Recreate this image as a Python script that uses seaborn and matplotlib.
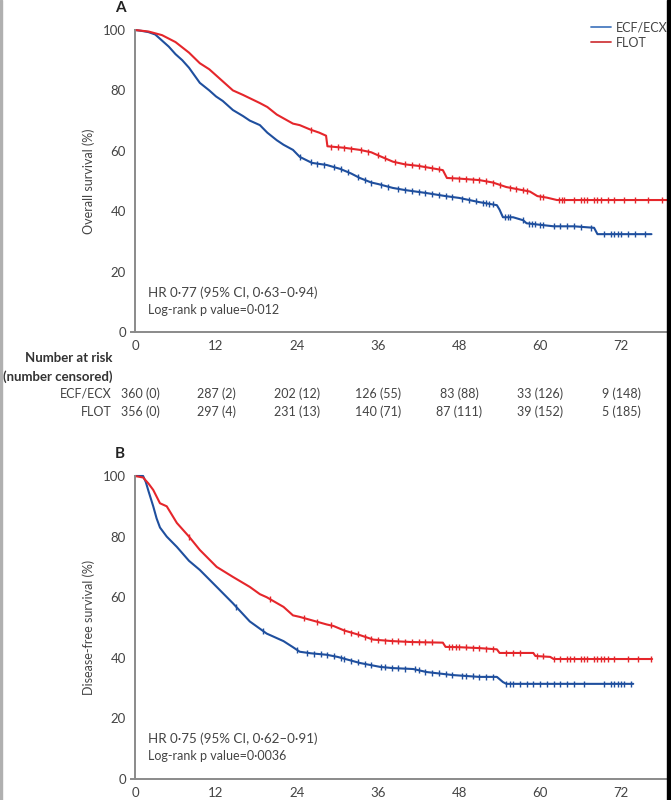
import numpy as np
import pandas as pd
import matplotlib
matplotlib.use("Agg")
import matplotlib.pyplot as plt
import seaborn as sns
from matplotlib.lines import Line2D
from matplotlib.patches import Rectangle

# ---------------- data ----------------
groups = ["ECF/ECX", "FLOT"]
month_ticks = [0, 12, 24, 36, 48, 60, 72]
y_ticks = [0, 20, 40, 60, 80, 100]

# Panel A - overall survival
os_ecf_t = [0, 1, 2, 3, 4, 5, 6, 7, 8, 9.6, 11, 12, 13, 14.5, 16, 17, 18.5, 19.6, 21, 22, 23.4, 24.4,
            26.2, 28.4, 30.4, 32, 33.3, 35, 36, 38.2, 40, 43.2, 46, 48, 51, 53.6, 54, 54.5, 56, 57.5,
            58, 60, 62, 65, 68, 68.5, 76.5]
os_ecf_s = [100, 99.7, 99.3, 98.5, 96.5, 94.5, 92, 90, 87.5, 82.5, 80, 78, 76.5, 73.5, 71.5, 70, 68.5,
            66, 63.5, 62, 60.3, 58, 56, 55.3, 54, 52.5, 51, 49.5, 49, 47.7, 47, 46, 45, 44.4, 43, 42,
            40.5, 38, 38, 37, 36, 35.5, 35, 35, 34.5, 32.4, 32.4]
os_flot_t = [0, 2, 4, 6, 8, 9.6, 11, 12, 13, 14.5, 16, 18.5, 19.6, 21, 23.4, 24.4, 26, 27.3, 28.3, 28.5,
             31, 33.3, 35, 36, 38.2, 40, 42, 45.6, 46.2, 48, 51, 53, 55, 58.5, 59.6, 61, 62.5, 78.8]
os_flot_s = [100, 99.5, 98.3, 96, 92.5, 89, 87, 85, 83, 80, 78.5, 75.8, 74.5, 72, 69, 68.5, 67, 66, 65,
             61.5, 61, 60.3, 59.5, 58.5, 56.4, 55.5, 55, 53.6, 51, 50.8, 50.3, 49.5, 48, 46.5, 45, 44.5,
             43.7, 43.7]
os_ecf_cens = [24.5, 26, 27, 28, 29.5, 30.5, 31.5, 33, 34, 35, 36.5, 37.5, 39, 40, 41, 42, 43, 44, 45,
               46, 47, 48.5, 49.5, 50.5, 51.5, 52, 52.5, 53, 54.8, 55.2, 55.6, 57.5, 58.3, 58.8, 59.3,
               60, 60.5, 62, 63, 64, 65, 66, 67.5, 69.5, 70.5, 71, 71.5, 72, 73, 74, 75.5]
os_flot_cens = [26, 29, 30, 31, 32, 33.5, 34.5, 36, 37, 38.5, 40, 41, 42, 43, 44, 45, 47, 48, 49, 50,
                51, 52, 53, 54, 55.5, 56.5, 57.5, 58, 60, 60.5, 62.8, 63.2, 63.6, 65, 66, 66.5, 67, 68,
                68.5, 69, 70, 71, 72.5, 74, 76, 78]

# Panel B - disease-free survival
dfs_ecf_t = [0, 1.2, 1.6, 2, 2.7, 3.2, 3.7, 4.7, 6.2, 8, 9.6, 12.1, 14.5, 17, 19.5, 22, 23.4, 24.4, 26,
             28.4, 30, 33.3, 36.3, 38.2, 41.2, 43.2, 47.1, 51, 53.6, 54.5, 55, 73.8]
dfs_ecf_s = [100, 100, 98, 95, 90, 86, 83, 80, 76.6, 72, 69, 63.4, 58, 52, 48, 45.5, 43.5, 42, 41.5, 41,
             40.3, 38.3, 37, 36.6, 36.3, 35.3, 34.3, 33.7, 33.7, 32, 31.4, 31.4]
dfs_flot_t = [0, 1.2, 2, 2.7, 3.7, 4.7, 6.2, 8, 9.6, 12.1, 14.5, 17, 18.5, 19.5, 22, 23.4, 24.4, 26, 28.4,
              29.4, 31, 33.3, 35.3, 38.2, 41, 45.6, 46, 48, 51, 53.6, 54, 59, 59.3, 61.5, 62, 76.6]
dfs_flot_s = [100, 99.5, 97.5, 95.4, 91, 90, 84.5, 80, 75.6, 70, 66.7, 63.4, 61, 60, 56.8, 54, 53.5, 52.5,
              51, 50.5, 49, 47.5, 46, 45.5, 45.2, 45, 43.6, 43.5, 43.2, 42.8, 41.6, 41.6, 40.6, 40.3,
              39.6, 39.6]
dfs_ecf_cens = [15, 19, 24, 25.5, 26.5, 27.5, 28.5, 29.5, 30.5, 31, 32, 33, 34, 35, 36.5, 37, 38, 39, 40,
                41.5, 42, 43, 44, 45, 46, 47, 48.5, 49, 50, 51, 52, 53, 55, 55.5, 56, 57, 58, 59, 60,
                61, 62, 63, 64, 65, 66.5, 69.5, 70.5, 71, 71.5, 72, 72.5, 73.5]
dfs_flot_cens = [8, 20, 25, 27, 29, 31, 32, 33, 34, 35, 36, 37, 38, 39, 40, 41, 42, 43, 44, 46.5, 47,
                 47.5, 48, 49, 50, 51, 52, 53, 55, 56, 57, 59.5, 60.5, 62, 63, 64, 64.5, 65, 66, 66.5,
                 67, 68, 68.5, 69, 69.5, 70, 71, 73, 74.5, 76.5]

risk_ecf = ["360 (0)", "287 (2)", "202 (12)", "126 (55)", "83 (88)", "33 (126)", "9 (148)"]
risk_flot = ["356 (0)", "297 (4)", "231 (13)", "140 (71)", "87 (111)", "39 (152)", "5 (185)"]

hr_texts = ["HR 0·77 (95% CI, 0·63–0·94)", "HR 0·75 (95% CI, 0·62–0·91)"]
p_texts = ["Log-rank p value=0·012", "Log-rank p value=0·0036"]
ylabels = ["Overall survival (%)", "Disease-free survival (%)"]
panel_labels = ["A", "B"]

# ---------------- style ----------------
sns.set_theme(style="white")
FONT = ["Lato", "DejaVu Sans"]
plt.rcParams["font.family"] = FONT
BLUE = "#1f4f9e"
RED = "#e5262b"
GREY = "#8a8a8a"
TXT = "#444444"
FS = 9
FT = 9.5

W, H = 671, 800
fig = plt.figure(figsize=(W / 100, H / 100), dpi=100)

XMIN, XMAX = -0.6, 78.8
x_left_px = 135 - 0.6 * 6.75
axes_px = [(30, 332), (476, 779)]

def fx(px):
    return px / W

def fy(py):
    return 1 - py / H

panels = [
    (os_ecf_t, os_ecf_s, os_flot_t, os_flot_s, os_ecf_cens, os_flot_cens),
    (dfs_ecf_t, dfs_ecf_s, dfs_flot_t, dfs_flot_s, dfs_ecf_cens, dfs_flot_cens),
]

axes = []
for i, (et, es, ft, fs, ec, fc) in enumerate(panels):
    top, bot = axes_px[i]
    ax = fig.add_axes([fx(x_left_px), fy(bot), fx(667 - x_left_px), (bot - top) / H])
    axes.append(ax)
    df = pd.concat([
        pd.DataFrame({"t": et, "s": es, "g": groups[0]}),
        pd.DataFrame({"t": ft, "s": fs, "g": groups[1]}),
    ])
    sns.lineplot(data=df, x="t", y="s", hue="g", palette=[BLUE, RED], estimator=None,
                 sort=False, lw=1.5, ax=ax, legend=False, clip_on=False)
    for cens, tt, ss, col in [(ec, et, es, BLUE), (fc, ft, fs, RED)]:
        cy = np.interp(cens, tt, ss)
        sns.scatterplot(x=cens, y=cy, marker="|", s=22, linewidth=1.0, color=col, ax=ax,
                        legend=False, zorder=3)
    ax.set_xlim(XMIN, XMAX)
    ax.set_ylim(0, 100)
    ax.spines["left"].set_position(("data", 0))
    for s in ["top", "right"]:
        ax.spines[s].set_visible(False)
    for s in ["left", "bottom"]:
        ax.spines[s].set_color(GREY)
        ax.spines[s].set_linewidth(1.4)
    ax.set_xticks(month_ticks)
    ax.set_yticks(y_ticks)
    ax.tick_params(axis="both", direction="out", length=5, width=1.2, color="#555555",
                   labelsize=FT, labelcolor=TXT, pad=1.5)
    ax.tick_params(axis="x", pad=1)
    ax.set_xlabel("")
    ax.set_ylabel(ylabels[i], fontsize=FS, color=TXT)
    ax.yaxis.set_label_coords((95 - x_left_px) / (667 - x_left_px), 0.5)
    ax.set_facecolor("white")
    # annotations
    fig.text(fx(148), fy(top + 263), hr_texts[i], fontsize=9.6, color=TXT, ha="left", va="center")
    fig.text(fx(148), fy(top + 280), p_texts[i], fontsize=FS, color=TXT, ha="left", va="center")
    fig.text(fx(120), fy(top - 22), panel_labels[i], fontsize=11, fontweight="bold",
             color="#222222", ha="center", va="center")

# legend
handles = [Line2D([0], [0], color="#4a7cc0", lw=1.3), Line2D([0], [0], color="#d03a3e", lw=1.3)]
axes[0].legend(handles, groups, loc="upper left", bbox_to_anchor=(fx(591), fy(21)),
               bbox_transform=fig.transFigure, frameon=False, fontsize=FS, handlelength=1.6,
               handletextpad=0.4, labelspacing=0.3, borderpad=0, borderaxespad=0,
               labelcolor=TXT)

# number at risk table
fig.text(fx(112), fy(358), "Number at risk", fontsize=FT, fontweight="bold", color="#333333",
         ha="right", va="center")
fig.text(fx(112), fy(377), "(number censored)", fontsize=FT, fontweight="bold", color="#333333",
         ha="right", va="center")
fig.text(fx(112), fy(394), groups[0], fontsize=FS, color=TXT, ha="right", va="center")
fig.text(fx(112), fy(412), groups[1], fontsize=FS, color=TXT, ha="right", va="center")
ax0 = axes[0]
for j, m in enumerate(month_ticks):
    xpix = ax0.transData.transform((m, 0))[0]
    xm = xpix / fig.dpi / fig.get_figwidth()
    if j == 0:
        xm += 5 / W
    fig.text(xm, fy(394), risk_ecf[j], fontsize=FS, color=TXT, ha="center", va="center")
    fig.text(xm, fy(412), risk_flot[j], fontsize=FS, color=TXT, ha="center", va="center")

# frame artefacts of the screenshot
fig.patches.append(Rectangle((fx(667), 0), 1 - fx(667), 1, transform=fig.transFigure,
                             color="black", zorder=10))
fig.patches.append(Rectangle((0, 0), fx(1.5), 1, transform=fig.transFigure,
                             color="#b0b0b0", zorder=10))

fig.savefig("out.png", dpi=100, facecolor="white")
